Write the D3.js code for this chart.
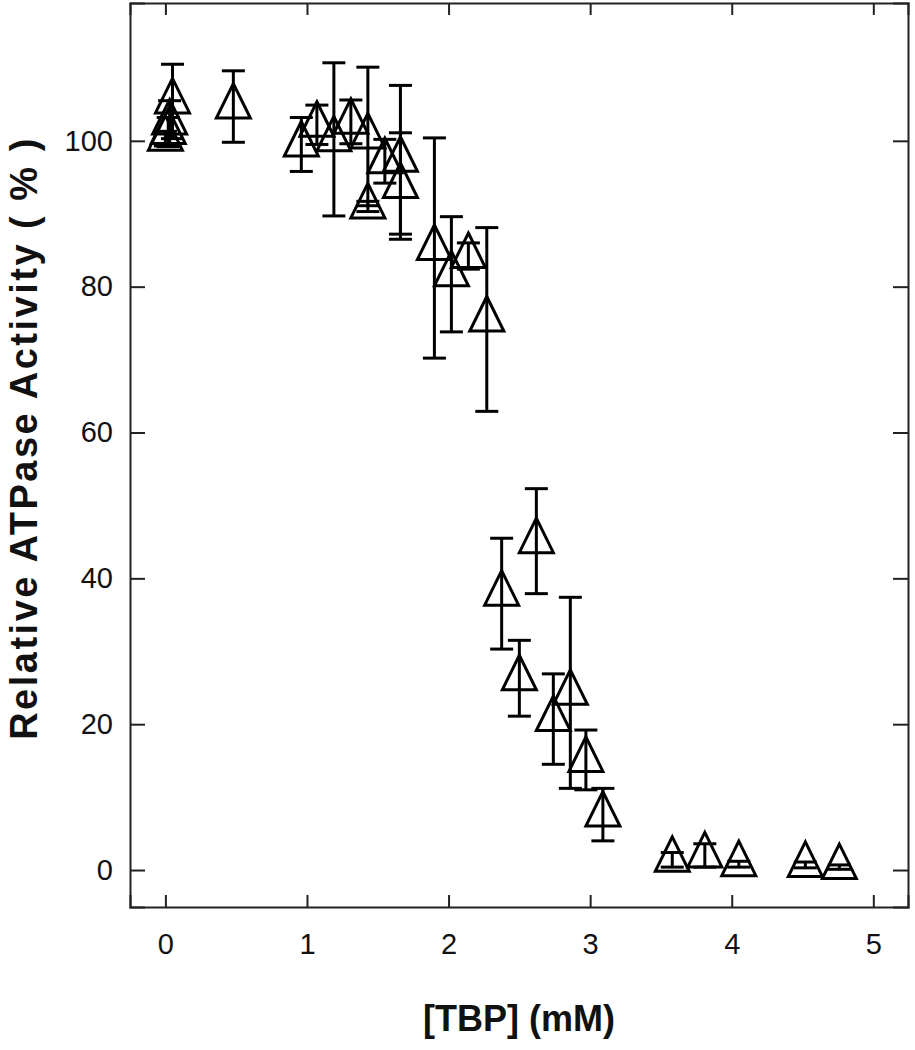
<!DOCTYPE html>
<html>
<head>
<meta charset="utf-8">
<script src="https://cdn.jsdelivr.net/npm/d3@7"></script>
<style>
  body { margin: 0; background: #fff; }
</style>
</head>
<body>
<div id="myChart"></div>
<script>
// Data: [TBP] (mM), relative activity (%), error (+/-)
let tbp = [0.0, 0.02, 0.03, 0.05, 0.48, 0.96, 1.07, 1.19, 1.31, 1.43, 1.43, 1.55, 1.66, 1.66,
  1.9, 2.02, 2.14, 2.27, 2.375, 2.5, 2.62, 2.74, 2.86, 2.97, 3.09, 3.58, 3.81, 4.05, 4.52, 4.76];
let activity = [100.3, 101.2, 102.5, 105.4, 104.7, 99.5, 102.2, 100.2, 102.6, 100.6, 91.0, 97.2, 97.4, 93.8,
  85.3, 81.7, 84.2, 75.5, 37.9, 26.3, 45.1, 20.7, 24.3, 15.1, 7.6, 1.4, 2.0, 0.8, 0.7, 0.4];
let errors = [1.0, 2.0, 3.0, 5.1, 4.9, 3.7, 2.7, 10.5, 3.0, 9.5, 0.7, 3.0, 10.2, 7.3,
  15.1, 7.9, 1.8, 12.6, 7.6, 5.2, 7.2, 6.2, 13.1, 4.1, 3.6, 1.0, 1.6, 0.4, 0.4, 0.3];

let xTicks = [0, 1, 2, 3, 4, 5];
let yTicks = [0, 20, 40, 60, 80, 100];

let data = tbp.map((d, i) => ({ x: d, y: activity[i], e: errors[i] }));

// Plot frame in page pixels
let frame = { left: 130, right: 908, top: 3, bottom: 907 };

let svg = d3
  .select("#myChart")
  .append("svg")
  .attr("width", 915)
  .attr("height", 1050);

let x = d3.scaleLinear().domain([-0.25, 5.245]).range([frame.left, frame.right]);
let y = d3.scaleLinear().domain([-5.07, 118.9]).range([frame.bottom, frame.top]);

let tickFont = "'Liberation Sans', Arial, sans-serif";

// Axes with inward ticks on all four sides
let bottomAxis = svg
  .append("g")
  .attr("transform", `translate(0,${frame.bottom})`)
  .call(d3.axisBottom(x).tickValues(xTicks).tickFormat(d3.format("d")).tickSize(-12).tickPadding(26));
let topAxis = svg
  .append("g")
  .attr("transform", `translate(0,${frame.top})`)
  .call(d3.axisTop(x).tickValues(xTicks).tickSize(-12).tickFormat(""));
let leftAxis = svg
  .append("g")
  .attr("transform", `translate(${frame.left},0)`)
  .call(d3.axisLeft(y).tickValues(yTicks).tickFormat(d3.format("d")).tickSize(-15).tickPadding(17));
let rightAxis = svg
  .append("g")
  .attr("transform", `translate(${frame.right},0)`)
  .call(d3.axisRight(y).tickValues(yTicks).tickSize(-15).tickFormat(""));

[bottomAxis, topAxis, leftAxis, rightAxis].forEach((g) => {
  g.select(".domain").attr("stroke", "#222").attr("stroke-width", 2);
  g.selectAll(".tick line").attr("stroke", "#222").attr("stroke-width", 2);
  g.selectAll(".tick text")
    .attr("fill", "#111")
    .style("font-size", "29px")
    .style("font-family", tickFont);
});

// Error bars
let capHalf = 11.5;
let bars = svg.append("g").attr("stroke", "#000").attr("stroke-width", 3).attr("fill", "none");

bars
  .selectAll(".err")
  .data(data)
  .enter()
  .append("line")
  .attr("x1", (d) => x(d.x))
  .attr("x2", (d) => x(d.x))
  .attr("y1", (d) => y(d.y + d.e))
  .attr("y2", (d) => y(d.y - d.e));

bars
  .selectAll(".capTop")
  .data(data)
  .enter()
  .append("line")
  .attr("x1", (d) => x(d.x) - capHalf)
  .attr("x2", (d) => x(d.x) + capHalf)
  .attr("y1", (d) => y(d.y + d.e))
  .attr("y2", (d) => y(d.y + d.e));

bars
  .selectAll(".capBottom")
  .data(data)
  .enter()
  .append("line")
  .attr("x1", (d) => x(d.x) - capHalf)
  .attr("x2", (d) => x(d.x) + capHalf)
  .attr("y1", (d) => y(d.y - d.e))
  .attr("y2", (d) => y(d.y - d.e));

// Open triangle markers (point sits at the centroid)
let triangle = "M0,-23L17,11.5L-17,11.5Z";

svg
  .selectAll(".tri")
  .data(data)
  .enter()
  .append("path")
  .attr("class", "tri")
  .attr("d", triangle)
  .attr("transform", (d) => `translate(${x(d.x)},${y(d.y)})`)
  .attr("fill", "none")
  .attr("stroke", "#000")
  .attr("stroke-width", 3)
  .attr("stroke-linejoin", "miter");

// Axis titles
svg
  .append("text")
  .attr("x", 519)
  .attr("y", 1031)
  .attr("text-anchor", "middle")
  .style("font-size", "36px")
  .style("font-weight", "bold")
  .style("font-family", tickFont)
  .attr("fill", "#111")
  .text("[TBP] (mM)");

svg
  .append("text")
  .attr("transform", "translate(37,438) rotate(-90)")
  .attr("text-anchor", "middle")
  .style("font-size", "38px")
  .style("font-weight", "bold")
  .style("letter-spacing", "2.5px")
  .style("font-family", tickFont)
  .attr("fill", "#111")
  .text("Relative ATPase Activity ( % )");
</script>
</body>
</html>
